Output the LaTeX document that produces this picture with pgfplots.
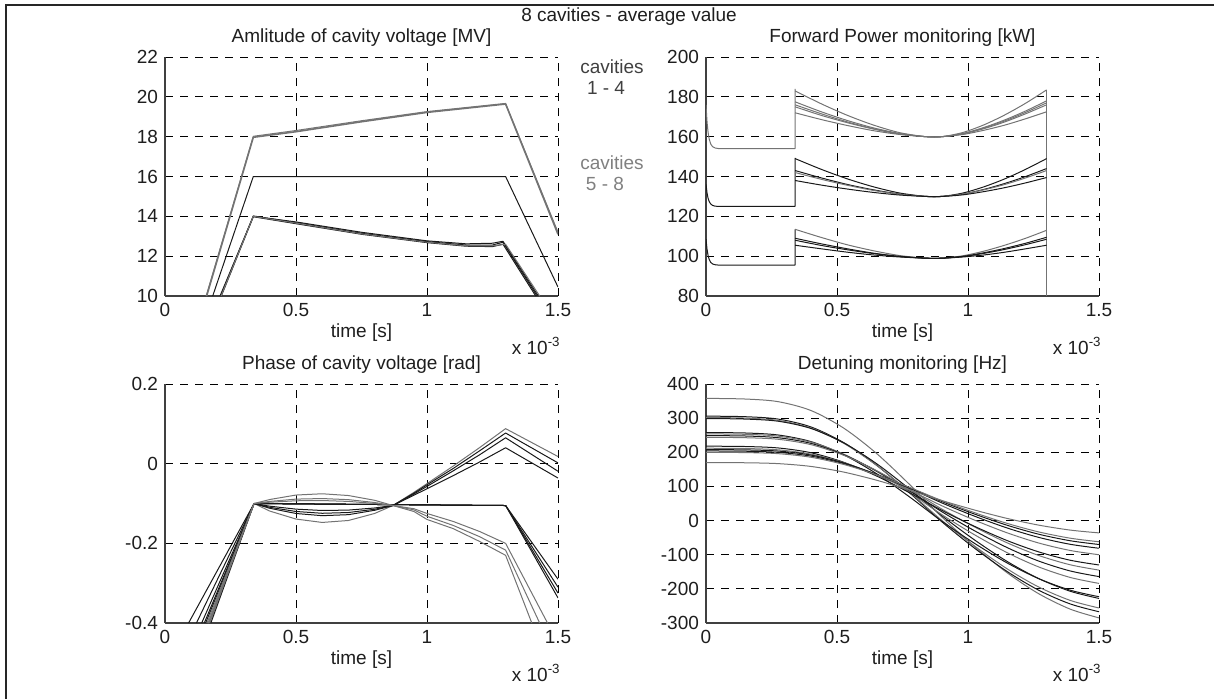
\documentclass[border=0pt]{standalone}
\usepackage{fontspec}
\setmainfont{Liberation Sans}
\usepackage{pgfplots}
\pgfplotsset{compat=1.18}

\definecolor{gline}{RGB}{115,115,115}
\definecolor{kline}{RGB}{25,25,25}
\definecolor{txt}{RGB}{30,30,30}
\newcommand{\fs}{\fontsize{9.5}{11.4}\selectfont}

% one style for the four MATLAB-like panels (1 px = 0.5 pt)
\pgfplotsset{
  every axis title/.style={at={(0.5,1)}, anchor=center, yshift=9.5pt, font=\fs, text=txt},
  every axis x label/.style={at={(0.5,0)}, anchor=center, yshift=-18.5pt, font=\fs, text=txt},
  panel/.style={
    scale only axis, width=196.5pt, height=119.5pt,
    xmin=0, xmax=1.5,
    xtick={0,0.5,1,1.5}, xticklabels={0,0.5,1,1.5},
    axis x line*=bottom, axis y line*=left,
    axis line style={-, black!75, line width=0.7pt},
    grid=major,
    major grid style={black, line width=0.5pt, dash pattern=on 4pt off 3.5pt},
    major tick length=0pt,
    tick label style={font=\fs, text=txt},
    xlabel={time [s]},
    every axis plot/.append style={line width=0.5pt},
    clip mode=individual,
  },
  g/.style={gline, line join=round},
  k/.style={kline, line join=round},
}

\begin{document}
\begin{tikzpicture}
\useasboundingbox (0,0) rectangle (607pt,-349pt);
\draw[line width=1pt, black!85] (3pt,-360pt) -- (3pt,-2.5pt) -- (620pt,-2.5pt);

\node[font=\fs, text=txt] at (314.5pt,-8.5pt) {8 cavities - average value};
\node[font=\fs, text=black!75] at (306pt,-33.5pt) {cavities};
\node[font=\fs, text=black!75] at (303pt,-44pt) {1 - 4};
\node[font=\fs, text=black!50] at (306pt,-81.5pt) {cavities};
\node[font=\fs, text=black!50] at (302.5pt,-92pt) {5 - 8};

% ---------------- amplitude
\begin{axis}[panel, name=p1, at={(82.5pt,-148pt)}, anchor=south west,
  ymin=10, ymax=22, ytick={10,12,14,16,18,20,22}, yticklabels={10,12,14,16,18,20,22},
  title={Amlitude of cavity voltage [MV]}]
\addplot[g, line width=0.8pt] coordinates {(0.159,10) (0.337,17.97) (0.5,18.25) (0.75,18.75) (1.0,19.22) (1.3,19.64) (1.5,13.1)};
\addplot[g] coordinates {(0.157,10) (0.337,18.02) (0.5,18.31) (0.75,18.8) (1.0,19.26) (1.3,19.67) (1.5,13.2)};
\addplot[k] coordinates {(0.182,10) (0.337,16) (1.3,16) (1.5,10.45)};
\addplot[k] coordinates {(0.2125,10) (0.337,14.02) (0.5,13.68) (0.75,13.15) (1.0,12.73) (1.15,12.56) (1.25,12.56) (1.29,12.7) (1.42,10)};
\addplot[k] coordinates {(0.215,10) (0.337,13.98) (0.5,13.63) (0.75,13.1) (1.0,12.68) (1.15,12.5) (1.25,12.48) (1.29,12.6) (1.415,10)};
\addplot[k] coordinates {(0.21,10) (0.337,14.0) (0.5,13.72) (0.75,13.2) (1.0,12.77) (1.15,12.62) (1.25,12.65) (1.29,12.75) (1.425,10)};
\addplot[g] coordinates {(0.214,10) (0.337,14.0) (0.5,13.66) (0.75,13.12) (1.0,12.7) (1.15,12.52) (1.25,12.52) (1.3,12.6) (1.43,10)};
\end{axis}

% ---------------- forward power
\begin{axis}[panel, name=p2, at={(353pt,-148pt)}, anchor=south west,
  ymin=80, ymax=200, ytick={80,100,...,200}, yticklabels={80,100,120,140,160,180,200},
  title={Forward Power monitoring [kW]}]
% cavities 1-4
\addplot[g] coordinates {(0,176) (0.004,167.3) (0.008,162.1) (0.012,158.9) (0.018,156.3) (0.025,155.0) (0.035,154.3) (0.05,154) (0.34,154) (0.34,184)};
\addplot[g, smooth] coordinates {(0.34,183) (0.44,176.5) (0.54,170.7) (0.64,165.8) (0.74,162.0) (0.84,160) (0.9,160) (0.98,162.1) (1.06,165.9) (1.14,170.9) (1.22,176.8) (1.30,183.5)};
\addplot[g, smooth] coordinates {(0.34,177.5) (0.44,172.5) (0.54,168.1) (0.64,164.4) (0.74,161.6) (0.84,160) (0.9,160) (0.98,161.6) (1.06,164.6) (1.14,168.4) (1.22,172.9) (1.30,178)};
\addplot[g, smooth] coordinates {(0.34,176) (0.44,171.5) (0.54,167.4) (0.64,164.0) (0.74,161.4) (0.84,160) (0.9,160) (0.98,161.5) (1.06,164.3) (1.14,167.9) (1.22,172.2) (1.30,177)};
\addplot[g, smooth] coordinates {(0.34,175) (0.44,170.7) (0.54,167.0) (0.64,163.8) (0.74,161.3) (0.84,160) (0.9,160) (0.98,161.4) (1.06,164.0) (1.14,167.4) (1.22,171.5) (1.30,176)};
\addplot[g, smooth] coordinates {(0.34,172) (0.44,168.6) (0.54,165.6) (0.64,163.0) (0.74,161.1) (0.84,160) (0.9,160) (0.98,161.1) (1.06,163.2) (1.14,165.8) (1.22,169.0) (1.30,172.5)};
\addplot[g] coordinates {(1.3,183.5) (1.3,80)};
% cavities 5-8
\addplot[k] coordinates {(0,136) (0.004,131.7) (0.008,129.0) (0.012,127.5) (0.018,126.2) (0.025,125.5) (0.035,125.1) (0.05,125) (0.34,125) (0.34,149.3)};
\addplot[k, smooth] coordinates {(0.34,149) (0.44,143.6) (0.54,138.8) (0.64,134.8) (0.74,131.7) (0.84,130) (0.9,130) (0.98,131.7) (1.06,134.8) (1.14,138.8) (1.22,143.6) (1.30,149)};
\addplot[k, smooth] coordinates {(0.34,143) (0.44,139.3) (0.54,136.0) (0.64,133.3) (0.74,131.2) (0.84,130) (0.9,130) (0.98,131.2) (1.06,133.5) (1.14,136.5) (1.22,140.0) (1.30,144)};
\addplot[g, smooth] coordinates {(0.34,142) (0.44,138.6) (0.54,135.6) (0.64,133.0) (0.74,131.1) (0.84,130) (0.9,130) (0.98,131.2) (1.06,133.3) (1.14,136.0) (1.22,139.3) (1.30,143)};
\addplot[k, smooth] coordinates {(0.34,138) (0.44,135.7) (0.54,133.7) (0.64,132.0) (0.74,130.7) (0.84,130) (0.9,130) (0.98,130.8) (1.06,132.4) (1.14,134.4) (1.22,136.8) (1.30,139.5)};
% lowest group
\addplot[k] coordinates {(0,108.5) (0.004,103.4) (0.008,100.3) (0.012,98.4) (0.018,96.9) (0.025,96.1) (0.035,95.7) (0.05,95.5) (0.34,95.5) (0.34,113.5)};
\addplot[g, smooth] coordinates {(0.34,113.5) (0.44,109.4) (0.54,105.7) (0.64,102.7) (0.74,100.3) (0.84,99) (0.9,99) (0.98,100.2) (1.06,102.5) (1.14,105.5) (1.22,109.0) (1.30,113)};
\addplot[k, smooth] coordinates {(0.34,109) (0.44,106.2) (0.54,103.7) (0.64,101.5) (0.74,99.9) (0.84,99) (0.9,99) (0.98,99.9) (1.06,101.7) (1.14,103.9) (1.22,106.5) (1.30,109.5)};
\addplot[k, smooth] coordinates {(0.34,108) (0.44,105.4) (0.54,103.2) (0.64,101.3) (0.74,99.8) (0.84,99) (0.9,99) (0.98,99.8) (1.06,101.4) (1.14,103.4) (1.22,105.8) (1.30,108.5)};
\addplot[k, smooth] coordinates {(0.34,105.5) (0.44,103.7) (0.54,102.0) (0.64,100.6) (0.74,99.6) (0.84,99) (0.9,99) (0.98,99.6) (1.06,100.6) (1.14,102.0) (1.22,103.7) (1.30,105.5)};
\end{axis}

% ---------------- phase
\begin{axis}[panel, name=p3, at={(82.5pt,-311.5pt)}, anchor=south west,
  ymin=-0.4, ymax=0.2, ytick={-0.4,-0.2,0,0.2}, yticklabels={-0.4,-0.2,0,0.2},
  title={Phase of cavity voltage [rad]}]
\addplot[k] coordinates {(0.09,-0.4) (0.34,-0.1) (1.3,-0.105) (1.5,-0.29)};
\addplot[k] coordinates {(0.12,-0.4) (0.34,-0.1) (1.3,-0.105) (1.5,-0.31)};
\addplot[k] coordinates {(0.14,-0.4) (0.34,-0.1) (1.3,-0.105) (1.5,-0.325)};
\addplot[k] coordinates {(0.155,-0.4) (0.34,-0.1) (1.3,-0.105) (1.5,-0.337)};
\addplot[g] coordinates {(0.165,-0.4) (0.34,-0.1) (0.4,-0.119) (0.5,-0.139) (0.6,-0.1475) (0.7,-0.1426) (0.8,-0.125) (0.87,-0.105) (0.95,-0.072) (1.0,-0.05) (1.1,-0.006) (1.2,0.04) (1.3,0.088) (1.5,0.018)};
\addplot[k] coordinates {(0.17,-0.4) (0.34,-0.1) (0.4,-0.112) (0.5,-0.125) (0.6,-0.1305) (0.7,-0.128) (0.8,-0.117) (0.87,-0.105) (0.95,-0.074) (1.0,-0.053) (1.1,-0.012) (1.2,0.032) (1.3,0.077) (1.5,0.002)};
\addplot[k] coordinates {(0.175,-0.4) (0.34,-0.1) (0.4,-0.1095) (0.5,-0.12) (0.6,-0.1245) (0.7,-0.1226) (0.8,-0.1144) (0.87,-0.105) (0.95,-0.076) (1.0,-0.057) (1.1,-0.018) (1.2,0.022) (1.3,0.065) (1.5,-0.019)};
\addplot[k] coordinates {(0.15,-0.4) (0.34,-0.1) (0.4,-0.1067) (0.5,-0.1141) (0.6,-0.1175) (0.7,-0.1165) (0.8,-0.1112) (0.87,-0.105) (0.95,-0.079) (1.0,-0.063) (1.1,-0.03) (1.2,0.004) (1.3,0.04) (1.5,-0.036)};
\addplot[g] coordinates {(0.16,-0.4) (0.34,-0.1) (0.4,-0.0899) (0.5,-0.0787) (0.6,-0.0755) (0.7,-0.0799) (0.8,-0.0919) (0.87,-0.105) (0.95,-0.113) (1.0,-0.125) (1.1,-0.145) (1.2,-0.17) (1.3,-0.2) (1.46,-0.4)};
\addplot[g] coordinates {(0.165,-0.4) (0.34,-0.1) (0.4,-0.0947) (0.5,-0.0889) (0.6,-0.0875) (0.7,-0.0903) (0.8,-0.0974) (0.87,-0.105) (0.95,-0.116) (1.0,-0.132) (1.1,-0.155) (1.2,-0.183) (1.3,-0.217) (1.43,-0.4)};
\addplot[g] coordinates {(0.17,-0.4) (0.34,-0.1) (0.4,-0.0967) (0.5,-0.0931) (0.6,-0.0925) (0.7,-0.0947) (0.8,-0.0997) (0.87,-0.105) (0.95,-0.12) (1.0,-0.14) (1.1,-0.163) (1.2,-0.195) (1.3,-0.23) (1.40,-0.4)};
\end{axis}

% ---------------- detuning
\begin{axis}[panel, name=p4, at={(353pt,-311.5pt)}, anchor=south west,
  ymin=-300, ymax=400, ytick={-300,-200,...,400}, yticklabels={-300,-200,-100,0,100,200,300,400},
  title={Detuning monitoring [Hz]}]
\addplot[g, smooth] coordinates {(0,358) (0.15,356.1) (0.275,348.4) (0.4,322.6) (0.525,271.2) (0.65,197.3) (0.775,107.2) (0.9,10.8) (1.025,-76.0) (1.15,-153.2) (1.27,-214.3) (1.39,-259.3) (1.5,-285)};
\addplot[k, smooth] coordinates {(0,306) (0.15,304.3) (0.275,297.4) (0.4,274.5) (0.525,228.6) (0.65,162.8) (0.775,82.5) (0.9,-3.4) (1.025,-80.8) (1.15,-149.5) (1.27,-204.0) (1.39,-244.1) (1.5,-267)};
\addplot[g, smooth] coordinates {(0,302) (0.15,300.3) (0.275,293.6) (0.4,271.3) (0.525,226.7) (0.65,162.5) (0.775,84.4) (0.9,0.7) (1.025,-74.6) (1.15,-141.6) (1.27,-194.6) (1.39,-233.7) (1.5,-256)};
\addplot[k, smooth] coordinates {(0,299) (0.15,297.4) (0.275,291.1) (0.4,270) (0.525,227.9) (0.65,167.3) (0.775,93.5) (0.9,14.4) (1.025,-56.7) (1.15,-120) (1.27,-170) (1.39,-206.9) (1.5,-228)};
\addplot[k, smooth] coordinates {(0,258) (0.15,256.6) (0.275,250.8) (0.4,231.5) (0.525,193.1) (0.65,137.8) (0.775,70.4) (0.9,-1.7) (1.025,-66.7) (1.15,-124.4) (1.27,-170.1) (1.39,-203.8) (1.5,-223)};
\addplot[g, smooth] coordinates {(0,254) (0.15,252.7) (0.275,247.4) (0.4,229.9) (0.525,194.9) (0.65,144.5) (0.775,83.2) (0.9,17.5) (1.025,-41.6) (1.15,-94.2) (1.27,-135.8) (1.39,-166.5) (1.5,-184)};
\addplot[k, smooth] coordinates {(0,249) (0.15,247.8) (0.275,242.8) (0.4,226.3) (0.525,193.2) (0.65,145.8) (0.775,87.9) (0.9,26) (1.025,-29.8) (1.15,-79.3) (1.27,-118.6) (1.39,-147.5) (1.5,-164)};
\addplot[g, smooth] coordinates {(0,244) (0.15,242.8) (0.275,238.2) (0.4,222.6) (0.525,191.5) (0.65,146.8) (0.775,92.3) (0.9,33.9) (1.025,-18.6) (1.15,-65.3) (1.27,-102.2) (1.39,-129.4) (1.5,-145)};
\addplot[k, smooth] coordinates {(0,218) (0.15,217) (0.275,212.8) (0.4,198.9) (0.525,171) (0.65,131) (0.775,82.3) (0.9,30.1) (1.025,-16.9) (1.15,-58.7) (1.27,-91.7) (1.39,-116.1) (1.5,-130)};
\addplot[g, smooth] coordinates {(0,212) (0.15,211.1) (0.275,207.3) (0.4,194.8) (0.525,169.9) (0.65,134) (0.775,90.3) (0.9,43.5) (1.025,1.4) (1.15,-36) (1.27,-65.7) (1.39,-87.5) (1.5,-100)};
\addplot[k, smooth] coordinates {(0,208) (0.15,207.1) (0.275,203.7) (0.4,192.1) (0.525,169) (0.65,135.8) (0.775,95.3) (0.9,51.9) (1.025,12.9) (1.15,-21.8) (1.27,-49.2) (1.39,-69.4) (1.5,-81)};
\addplot[k, smooth] coordinates {(0,204) (0.15,203.2) (0.275,199.9) (0.4,188.9) (0.525,167) (0.65,135.5) (0.775,97.1) (0.9,56) (1.025,19.1) (1.15,-13.8) (1.27,-39.9) (1.39,-59) (1.5,-70)};
\addplot[g, smooth] coordinates {(0,200) (0.15,199.2) (0.275,196.1) (0.4,185.6) (0.525,164.6) (0.65,134.5) (0.775,97.8) (0.9,58.5) (1.025,23.2) (1.15,-8.3) (1.27,-33.2) (1.39,-51.5) (1.5,-62)};
\addplot[g, smooth] coordinates {(0,170) (0.15,169.4) (0.275,166.9) (0.4,158.7) (0.525,142.2) (0.65,118.5) (0.775,89.7) (0.9,58.8) (1.025,31) (1.15,6.2) (1.27,-13.3) (1.39,-27.8) (1.5,-36)};
\end{axis}

\foreach \p in {p1,p2,p3,p4}{
  \node[anchor=east, font=\fs, text=txt, inner sep=0pt] at ([xshift=1.5pt,yshift=-25pt]\p.south east) {x 10\textsuperscript{-3}};
}
\end{tikzpicture}
\end{document}
